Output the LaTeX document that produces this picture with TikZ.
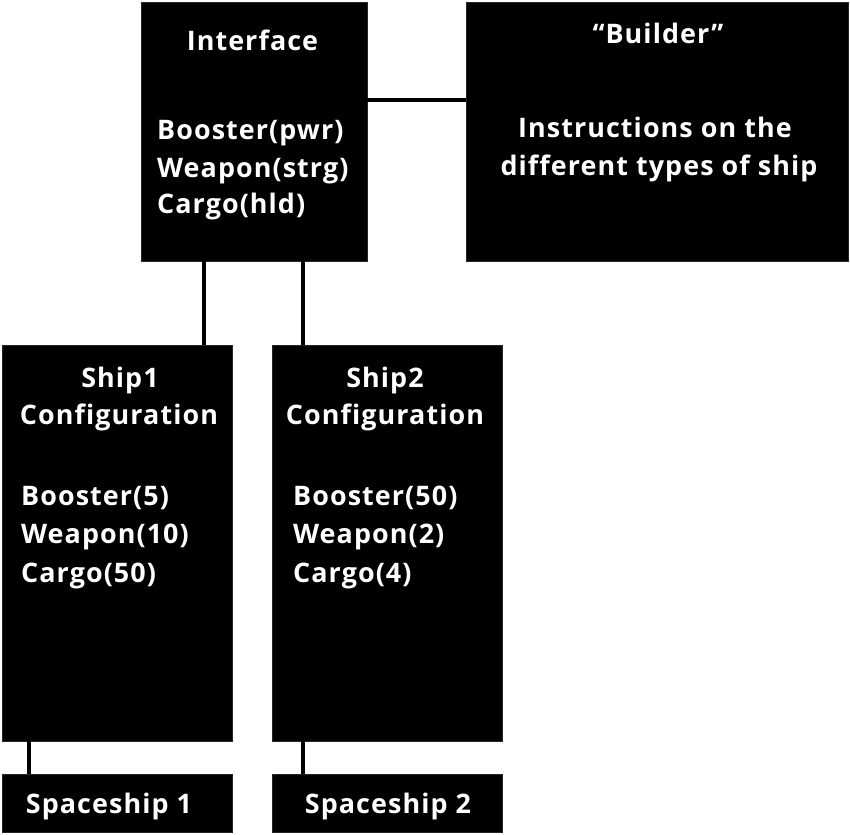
\documentclass[tikz,border=0pt]{standalone}
\usepackage{fontspec}
\newfontfamily\boxfont{Open Sans Bold}[Ligatures=NoCommon,LetterSpace=4]
\begin{document}
\begin{tikzpicture}[x=1bp,y=-1bp,
  blk/.style={draw=black!85,fill=black,line width=0.6bp,inner sep=0pt,rectangle},
  conn/.style={line width=4.5bp,draw=black},
  txt/.style={text=white,font=\boxfont\fontsize{27}{32}\selectfont,inner sep=0pt}]
\useasboundingbox (0,0) rectangle (850,835);
% boxes
\node[blk,minimum width=226bp,minimum height=259bp] (intf) at (254,131.5) {};
\node[blk,minimum width=382bp,minimum height=259bp] (bld) at (657,131.5) {};
\node[blk,minimum width=230bp,minimum height=396bp] (ship1) at (117,543) {};
\node[blk,minimum width=230bp,minimum height=396bp] (ship2) at (387,543) {};
\node[blk,minimum width=230bp,minimum height=58bp] (sp1) at (117,803) {};
\node[blk,minimum width=230bp,minimum height=58bp] (sp2) at (387,803) {};
% connectors
\draw[conn] (intf.east |- 0,100) -- (bld.west |- 0,100);
\draw[conn] (intf.south -| 204,0) -- (ship1.north -| 204,0);
\draw[conn] (intf.south -| 303,0) -- (ship2.north -| 303,0);
\draw[conn] (ship1.south -| 29,0) -- (sp1.north -| 29,0);
\draw[conn] (ship2.south -| 303,0) -- (sp2.north -| 303,0);
% texts
\node[txt,anchor=base] (t1) at (252.5,50) {Interface};
\node[txt,anchor=base west] (t2) at (157,139) {Booster(pwr)};
\node[txt,anchor=base west] (t3) at (157,177) {Weapon(strg)};
\node[txt,anchor=base west] (t4) at (157,213) {Cargo(hld)};
\node[txt,anchor=base] (t5) at (658,43) {“Builder”};
\node[txt,anchor=base] (t6) at (655,137) {Instructions on the};
\node[txt,anchor=base] (t7) at (659,175) {different types of ship};
\node[txt,anchor=base] (t8) at (120,387) {Ship1};
\node[txt,anchor=base] (t9) at (119,424) {Configuration};
\node[txt,anchor=base west] (t10) at (21,505) {Booster(5)};
\node[txt,anchor=base west] (t11) at (21,543) {Weapon(10)};
\node[txt,anchor=base west] (t12) at (21,582) {Cargo(50)};
\node[txt,anchor=base] (t13) at (385,387) {Ship2};
\node[txt,anchor=base] (t14) at (385,424) {Configuration};
\node[txt,anchor=base west] (t15) at (293,505) {Booster(50)};
\node[txt,anchor=base west] (t16) at (293,543) {Weapon(2)};
\node[txt,anchor=base west] (t17) at (293,582) {Cargo(4)};
\node[txt,anchor=base] (t18) at (109,813) {Spaceship 1};
\node[txt,anchor=base] (t19) at (388,813) {Spaceship 2};
\end{tikzpicture}
\end{document}
